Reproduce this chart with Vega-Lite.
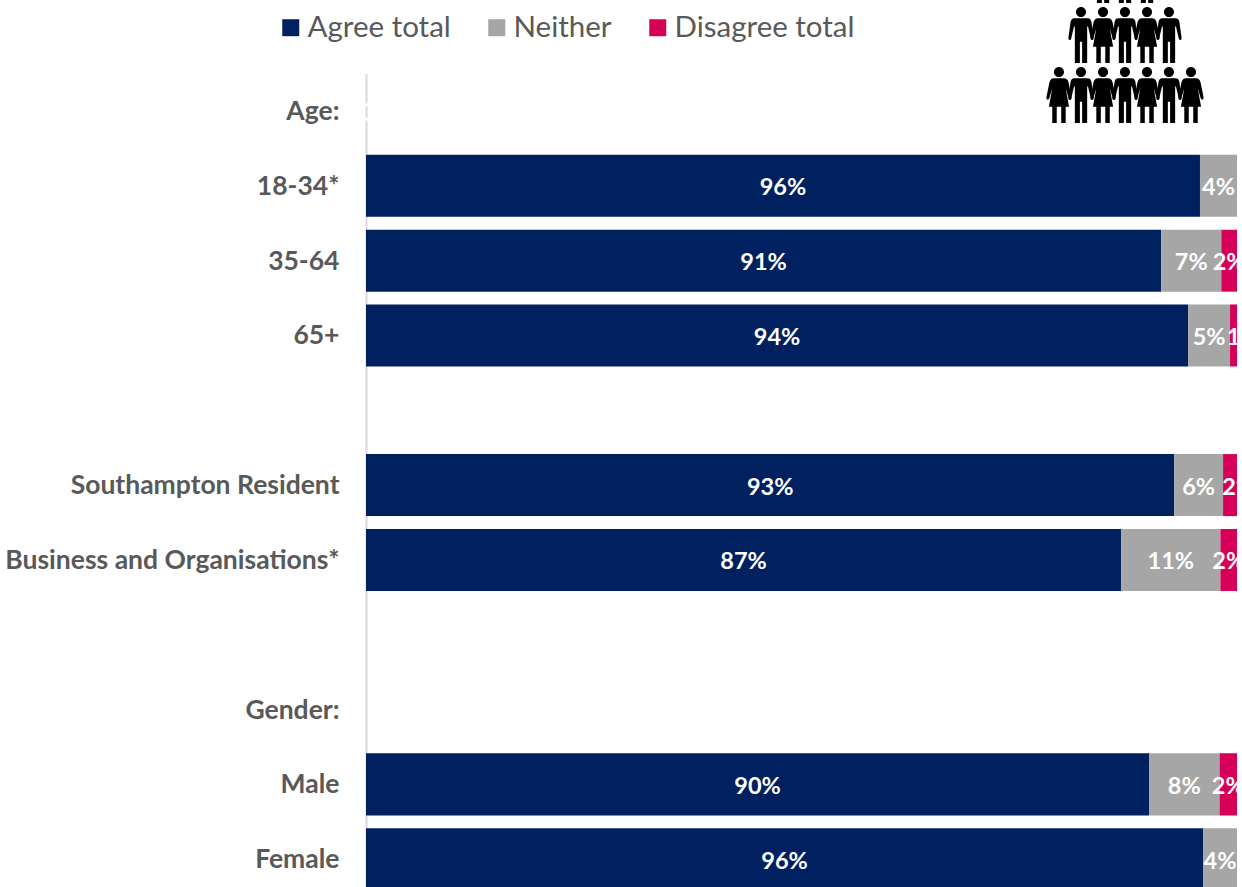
{"$schema":"https://vega.github.io/schema/vega-lite/v6.json","width":871,"height":813.4,"autosize":{"type":"none"},"padding":{"left":366,"top":73.6,"right":5,"bottom":0},"background":"white","config":{"view":{"stroke":null},"font":"Lato"},"layer":[{"data":{"values":[{"row":"18-34*","category":"Agree total","ord":1,"value":95.75,"label":"96%","labelAt":null},{"row":"18-34*","category":"Neither","ord":2,"value":4.25,"label":"4%","labelAt":null},{"row":"35-64","category":"Agree total","ord":1,"value":91.3,"label":"91%","labelAt":null},{"row":"35-64","category":"Neither","ord":2,"value":6.9,"label":"7%","labelAt":null},{"row":"35-64","category":"Disagree total","ord":3,"value":1.8,"label":"2%","labelAt":null},{"row":"65+","category":"Agree total","ord":1,"value":94.4,"label":"94%","labelAt":null},{"row":"65+","category":"Neither","ord":2,"value":4.8,"label":"5%","labelAt":null},{"row":"65+","category":"Disagree total","ord":3,"value":0.8,"label":"1%","labelAt":100.7},{"row":"Southampton Resident","category":"Agree total","ord":1,"value":92.8,"label":"93%","labelAt":null},{"row":"Southampton Resident","category":"Neither","ord":2,"value":5.6,"label":"6%","labelAt":null},{"row":"Southampton Resident","category":"Disagree total","ord":3,"value":1.6,"label":"2%","labelAt":100.2},{"row":"Business and Organisations*","category":"Agree total","ord":1,"value":86.7,"label":"87%","labelAt":null},{"row":"Business and Organisations*","category":"Neither","ord":2,"value":11.4,"label":"11%","labelAt":null},{"row":"Business and Organisations*","category":"Disagree total","ord":3,"value":1.9,"label":"2%","labelAt":null},{"row":"Male","category":"Agree total","ord":1,"value":89.9,"label":"90%","labelAt":null},{"row":"Male","category":"Neither","ord":2,"value":8.1,"label":"8%","labelAt":null},{"row":"Male","category":"Disagree total","ord":3,"value":2.0,"label":"2%","labelAt":null},{"row":"Female","category":"Agree total","ord":1,"value":96.1,"label":"96%","labelAt":null},{"row":"Female","category":"Neither","ord":2,"value":3.9,"label":"4%","labelAt":null}]},"transform":[{"stack":"value","groupby":["row"],"sort":[{"field":"ord","order":"ascending"}],"as":["x0","x1"]},{"calculate":"datum.labelAt || (datum.x0+datum.x1)/2","as":"mid"}],"encoding":{"y":{"field":"row","type":"nominal","title":null,"sort":null,"scale":{"domain":["Age:","18-34*","35-64","65+"," ","Southampton Resident","Business and Organisations*","  ","Gender:","Male","Female"],"range":[0,823],"paddingInner":0.171,"paddingOuter":0.0855},"axis":{"domainColor":"#D9D9D9","domainWidth":2,"domainDash":[29.5,3,11,3,1000],"ticks":false,"labelFontWeight":"bold","labelFontSize":26.5,"labelColor":"#595959","labelFont":"Lato","labelPadding":27,"labelLimit":400,"labelOffset":1}}},"layer":[{"mark":{"type":"bar","clip":true},"encoding":{"x":{"field":"x0","type":"quantitative","title":null,"axis":null,"scale":{"domain":[0,100],"nice":false,"zero":false}},"x2":{"field":"x1"},"color":{"field":"category","type":"nominal","scale":{"domain":["Agree total","Neither","Disagree total"],"range":["#002060","#A6A6A6","#D60058"]},"legend":{"title":null,"orient":"none","legendX":-90,"legendY":-61,"direction":"horizontal","columns":3,"symbolType":"square","symbolSize":289,"symbolStrokeWidth":0,"symbolOpacity":1,"labelFontSize":29.5,"labelColor":"#595959","labelFont":"Lato","labelOffset":2,"labelLimit":400,"columnPadding":31}}}},{"mark":{"type":"text","clip":true,"color":"white","fontWeight":"bold","fontSize":23.5,"font":"Lato","align":"center","baseline":"middle","dy":2.5},"encoding":{"x":{"field":"mid","type":"quantitative","title":null,"axis":null,"scale":{"domain":[0,100],"nice":false,"zero":false}},"text":{"field":"label","type":"nominal"}}}]},{"data":{"values":[{"col":82.09,"tier":2,"figure":"man"},{"col":84.62,"tier":2,"figure":"woman"},{"col":87.14,"tier":2,"figure":"man"},{"col":89.67,"tier":2,"figure":"woman"},{"col":92.19,"tier":2,"figure":"man"},{"col":79.56,"tier":3,"figure":"woman"},{"col":82.09,"tier":3,"figure":"man"},{"col":84.62,"tier":3,"figure":"woman"},{"col":87.14,"tier":3,"figure":"man"},{"col":89.67,"tier":3,"figure":"woman"},{"col":92.19,"tier":3,"figure":"man"},{"col":94.72,"tier":3,"figure":"woman"},{"col":84.62,"tier":1,"figure":"man"},{"col":87.14,"tier":1,"figure":"man"},{"col":89.67,"tier":1,"figure":"man"}]},"mark":{"type":"point","filled":true,"opacity":1,"size":3136,"color":"black","strokeWidth":0},"encoding":{"x":{"field":"col","type":"quantitative","axis":null,"title":null},"y":{"field":"tier","type":"quantitative","axis":null,"title":null,"scale":{"domain":[2.643,16.2],"reverse":true,"nice":false,"zero":false}},"shape":{"field":"figure","type":"nominal","legend":null,"scale":{"domain":["man","woman"],"range":["M0 -1 A0.18 0.18 0 1 1 0 -0.64 A0.18 0.18 0 1 1 0 -1Z M-0.24 -0.6 L0.24 -0.6 Q0.34 -0.6 0.37 -0.48 L0.45 0.1 Q0.46 0.18 0.4 0.18 Q0.36 0.18 0.35 0.12 L0.25 -0.3 L0.22 -0.3 L0.22 1 L0.04 1 L0.04 0.24 L-0.04 0.24 L-0.04 1 L-0.22 1 L-0.22 -0.3 L-0.25 -0.3 L-0.35 0.12 Q-0.36 0.18 -0.4 0.18 Q-0.46 0.18 -0.45 0.1 L-0.37 -0.48 Q-0.34 -0.6 -0.24 -0.6Z","M0 -1 A0.18 0.18 0 1 1 0 -0.64 A0.18 0.18 0 1 1 0 -1Z M-0.18 -0.6 L0.18 -0.6 Q0.3 -0.6 0.34 -0.46 L0.45 0.08 Q0.46 0.16 0.4 0.17 Q0.36 0.17 0.34 0.1 L0.24 -0.24 L0.36 0.42 L0.24 0.42 L0.24 1 L0.08 1 L0.08 0.42 L-0.08 0.42 L-0.08 1 L-0.24 1 L-0.24 0.42 L-0.36 0.42 L-0.24 -0.24 L-0.34 0.1 Q-0.36 0.17 -0.4 0.17 Q-0.46 0.16 -0.45 0.08 L-0.34 -0.46 Q-0.3 -0.6 -0.18 -0.6Z"]}}}}],"resolve":{"scale":{"y":"independent"}}}
